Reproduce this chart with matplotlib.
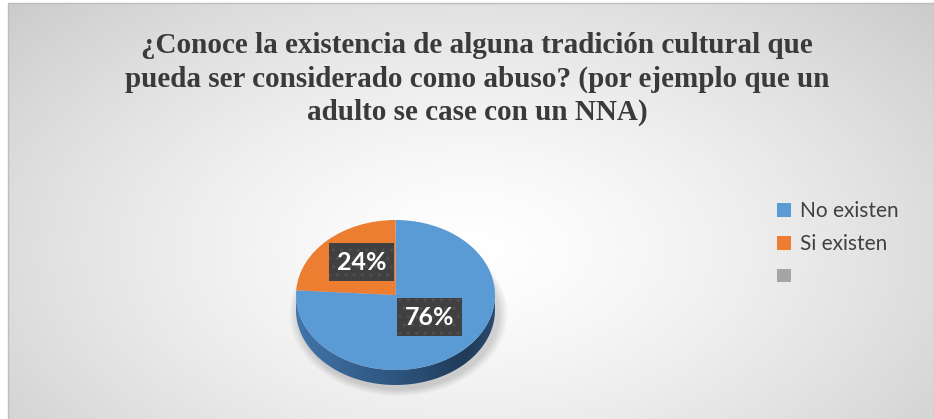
import numpy as np
import matplotlib
matplotlib.use("Agg")
import matplotlib.pyplot as plt
from matplotlib.patches import Polygon, Ellipse, Rectangle
from matplotlib.colors import LinearSegmentedColormap

# ---- data ----
title = ("¿Conoce la existencia de alguna tradición cultural que\n"
         "pueda ser considerado como abuso? (por ejemplo que un\n"
         "adulto se case con un NNA)")
categories = ["No existen", "Si existen", ""]
values = [76, 24, 0]
colors = ["#5b9bd5", "#ed7d31", "#a5a5a5"]

W, H = 934, 419
fig = plt.figure(figsize=(W / 100, H / 100), dpi=100)
fig.patch.set_facecolor("white")

# ---- background (radial gradient) ----
bg = fig.add_axes([0, 0, 1, 1])
bg.set_xlim(0, W)
bg.set_ylim(H, 0)
bg.axis("off")
yy, xx = np.mgrid[4:H, 8:W]
cx, cy = 470, 250
d = np.sqrt(((xx - cx) / 560.0) ** 2 + ((yy - cy) / 330.0) ** 2)
d = np.clip(d, 0, 1.2)
level = 1.0 - 0.20 * (d / 1.1) ** 1.4
img = np.dstack([level, level, level])
bg.imshow(np.clip(img, 0, 1), extent=(8, W, H, 4), aspect="auto",
          interpolation="bilinear", zorder=0)
bg.add_patch(Rectangle((8, 3.5), W - 8, H, fill=False, ec="#bdbdbd", lw=1, zorder=1))

bg.text(477, 32, title, ha="center", va="top", family="Liberation Serif",
        weight="bold", fontsize=21, color="#3a3a3a", linespacing=1.3, zorder=2)

# ---- pie axes ----
pcx, pcy, rx, ry = 395.5, 295.0, 99.5, 75.0
xl = 1.25
ylo, yhi = -1.6, 1.25
left = (pcx - xl * rx) / W
width = 2 * xl * rx / W
top_px = pcy - yhi * ry
bot_px = pcy - ylo * ry
ax = fig.add_axes([left, (H - bot_px) / H, width, (bot_px - top_px) / H])
ax.patch.set_alpha(0)

wedges, texts, autotexts = ax.pie(
    values, colors=colors, startangle=90, counterclock=False,
    wedgeprops=dict(linewidth=0, zorder=3),
    autopct=lambda p: f"{p:.0f}%" if p > 0 else "", pctdistance=0.5,
    textprops=dict(color="white", family="Lato", weight="bold", fontsize=18))
ax.set_aspect("auto")
ax.set_xlim(-xl, xl)
ax.set_ylim(ylo, yhi)
ax.axis("off")

for t in autotexts:
    x, y = t.get_position()
    t.set_position((x, y + 0.07))
    t.set_zorder(6)
    t.set_bbox(dict(boxstyle="square,pad=0.3", fc="#404040", ec="#4f4f4f",
                    lw=0, hatch=".."))

# side of the 3D pie
h = 0.2
th = np.linspace(np.pi, 2 * np.pi, 200)
xs = np.cos(th)
bottom = np.column_stack([xs, np.sin(th) - h])
topc = np.column_stack([xs[::-1], np.sin(th)[::-1]])
side = Polygon(np.vstack([bottom, topc]), closed=True, fc="none", ec="none",
               transform=ax.transData)
ax.add_patch(side)
side_cmap = LinearSegmentedColormap.from_list(
    "side", [(0.0, "#4275a9"), (0.3, "#35618f"), (0.55, "#2c5279"),
             (0.85, "#1f3b58"), (1.0, "#2a4c71")])
grad = np.linspace(0, 1, 256)[None, :]
im = ax.imshow(grad, cmap=side_cmap, extent=(-1, 1, -1 - h - 0.02, 0.02),
               aspect="auto", interpolation="bilinear", zorder=2)
im.set_clip_path(side)

# soft shadow
for i in range(8):
    s = 1.0 + 0.012 * (i + 1)
    ax.add_patch(Ellipse((0.03, -h - 0.05), 2 * s, 2 * s, fc="#000000",
                         alpha=0.018, lw=0, zorder=1))
ax.set_xlim(-xl, xl)
ax.set_ylim(ylo, yhi)

# ---- legend ----
fig.legend(wedges, categories, loc="upper left",
           bbox_to_anchor=(777 / W, 1 - 201 / H), frameon=False,
           prop=dict(family="Lato", size=15), labelcolor="#404040",
           handlelength=0.65, handleheight=0.65, handletextpad=0.45,
           labelspacing=0.62, borderpad=0, borderaxespad=0)

fig.savefig("out.png", dpi=100, facecolor="white")
